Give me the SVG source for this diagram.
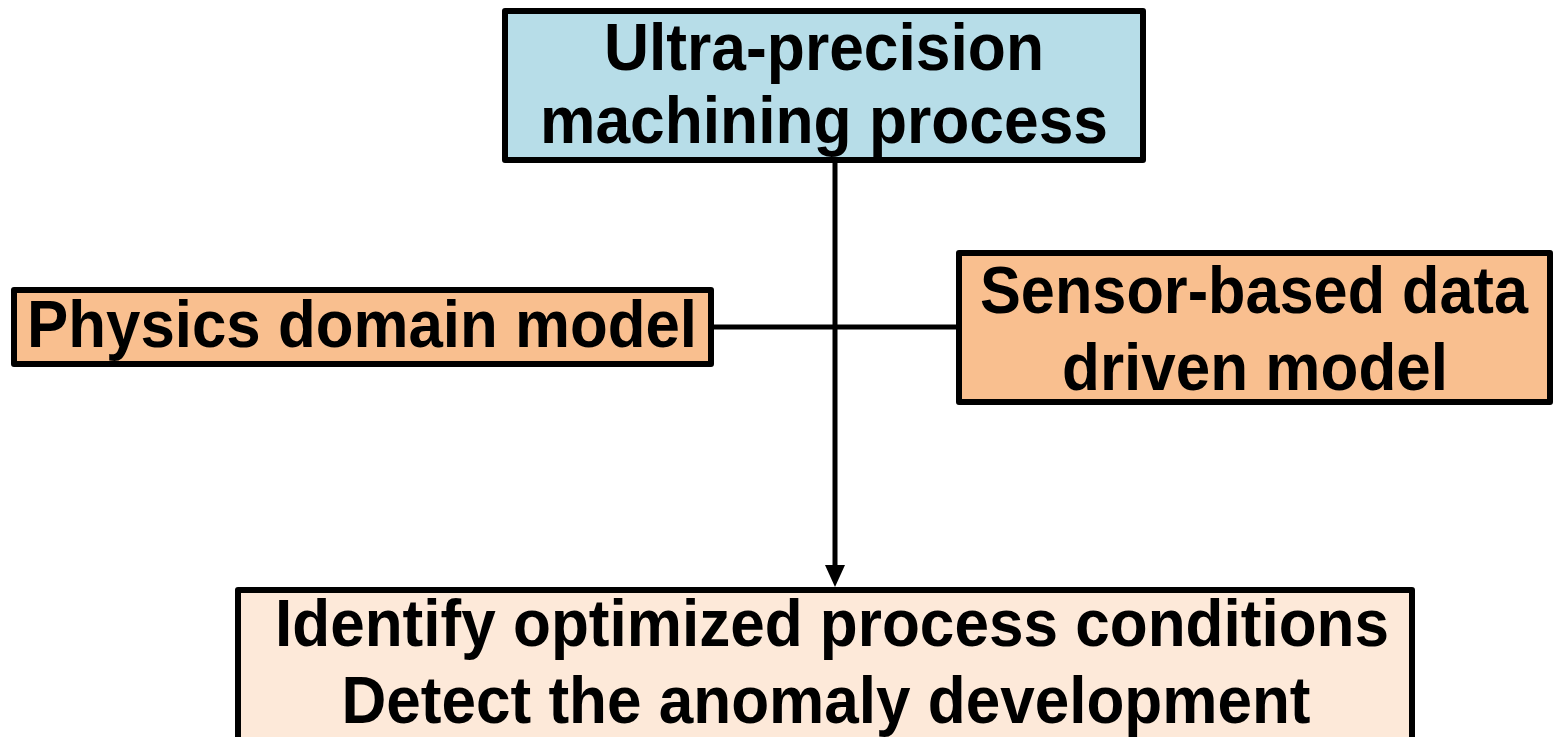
<svg xmlns="http://www.w3.org/2000/svg" width="1556" height="737" viewBox="0 0 1556 737">
  <style>
    .box { stroke: #000; stroke-width: 6; stroke-linejoin: round; }
    .blue { fill: #b7dde8; }
    .peach { fill: #f9bf8f; }
    .light { fill: #fde9d9; }
    .t { font-family: "Liberation Sans", Arial, sans-serif; font-weight: bold; font-size: 66px; fill: #000; text-anchor: middle; }
    .conn { stroke: #000; stroke-width: 5; fill: none; }
  </style>
  <defs>
    <marker id="arr" markerWidth="22" markerHeight="20" refX="0" refY="10" orient="auto" markerUnits="userSpaceOnUse">
      <path d="M0,0 L22,10 L0,20 z" fill="#000"/>
    </marker>
  </defs>
  <rect width="1556" height="737" fill="#fff"/>
  <g id="connectors">
    <line class="conn" x1="711" y1="327" x2="959" y2="327"/>
    <line class="conn" x1="835" y1="160" x2="835" y2="565" marker-end="url(#arr)"/>
  </g>
  <g id="node-process">
    <rect class="box blue" x="505" y="11" width="638" height="149"/>
    <text class="t" x="824" y="70" textLength="440" lengthAdjust="spacingAndGlyphs">Ultra-precision</text>
    <text class="t" x="824" y="143" textLength="568" lengthAdjust="spacingAndGlyphs">machining process</text>
  </g>
  <g id="node-physics">
    <rect class="box peach" x="14" y="290" width="697" height="74"/>
    <text class="t" x="362" y="347" textLength="670" lengthAdjust="spacingAndGlyphs">Physics domain model</text>
  </g>
  <g id="node-sensor">
    <rect class="box peach" x="959" y="253" width="591" height="149"/>
    <text class="t" x="1254" y="313" textLength="548" lengthAdjust="spacingAndGlyphs">Sensor-based data</text>
    <text class="t" x="1255" y="390" textLength="386" lengthAdjust="spacingAndGlyphs">driven model</text>
  </g>
  <g id="node-result">
    <rect class="box light" x="238" y="590" width="1174" height="160"/>
    <text class="t" x="832" y="646" textLength="1114" lengthAdjust="spacingAndGlyphs">Identify optimized process conditions</text>
    <text class="t" x="826" y="723" textLength="969" lengthAdjust="spacingAndGlyphs">Detect the anomaly development</text>
  </g>
</svg>
